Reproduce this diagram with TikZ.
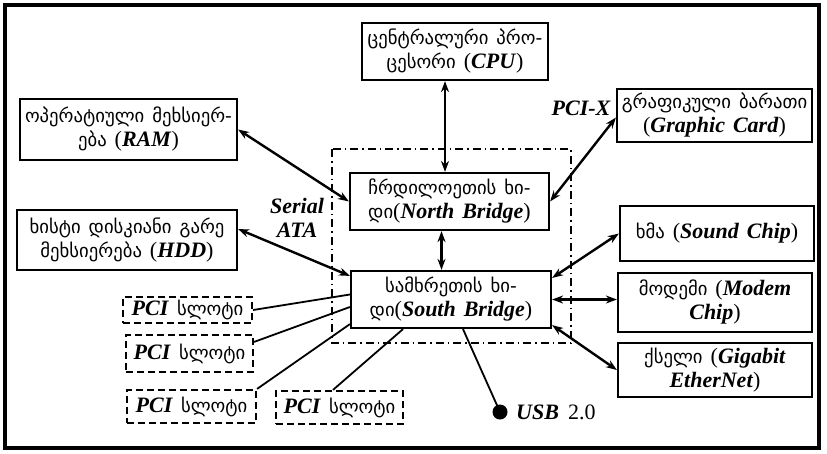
\documentclass[tikz,border=0pt]{standalone}
\usepackage{fontspec}
\setmainfont{Liberation Serif}
\newfontfamily\geo[Scale=0.85]{DejaVu Sans}
\usetikzlibrary{arrows.meta,calc}
\newcommand{\en}[1]{\textbf{\textit{#1}}}
\newcommand{\widespace}{\spaceskip=8pt plus 2pt\relax}
\begin{document}
\begin{tikzpicture}[x=1pt,y=-1pt,
  txt/.style={font=\fontsize{22}{24}\selectfont\widespace},
  box/.style={txt,draw,line width=2.2pt,inner sep=2pt,align=center},
  slot/.style={txt,draw,line width=2.2pt,dash pattern=on 7pt off 4pt,inner sep=2pt,align=center},
  link/.style={line width=2.4pt,{Stealth[length=11pt,width=8pt]}-{Stealth[length=11pt,width=8pt]}},
  wire/.style={line width=1.8pt},
  lbl/.style={font=\fontsize{22}{24}\selectfont\bfseries\itshape}]
\useasboundingbox (0,0) rectangle (827,453);
% outer frame
\draw[line width=3.5pt] (5,5) rectangle (819,448);
% chipset region
\draw[line width=1.6pt,dash pattern=on 8pt off 4pt on 1.5pt off 4pt] (332,149) rectangle (571,343);

% components
\node[box,minimum width=186pt,minimum height=57pt] (cpu) at (455,51.5)
  {{\geo ცენტრალური პრო-}\\{\geo ცესორი} (\en{CPU})};
\node[box,minimum width=217pt,minimum height=61pt] (ram) at (128.5,129.5)
  {{\geo ოპერატიული მეხსიერ-}\\{\geo ება} (\en{RAM})};
\node[box,minimum width=195pt,minimum height=53pt] (gc) at (714.5,115.5)
  {{\geo გრაფიკული ბარათი}\\(\en{Graphic Card})};
\node[box,minimum width=199pt,minimum height=57pt] (nb) at (449.5,201.5)
  {{\geo ჩრდილოეთის ხი-}\\{\geo დი}(\en{North Bridge})};
\node[box,minimum width=200pt,minimum height=57pt] (sb) at (451,299.5)
  {{\geo სამხრეთის ხი-}\\{\geo დი}(\en{South Bridge})};
\node[box,minimum width=220pt,minimum height=60pt] (hdd) at (127,240)
  {{\geo ხისტი დისკიანი გარე}\\{\geo მეხსიერება} (\en{HDD})};
\node[box,minimum width=194pt,minimum height=55pt] (snd) at (717,233.5)
  {{\geo ხმა} (\en{Sound Chip})};
\node[box,minimum width=194pt,minimum height=59pt] (mdm) at (715,302.5)
  {{\geo მოდემი} (\en{Modem}\\\en{Chip})};
\node[box,minimum width=194pt,minimum height=54pt] (gig) at (715,370)
  {{\geo ქსელი} (\en{Gigabit}\\\en{EtherNet})};

% expansion slots
\node[slot,minimum width=129pt,minimum height=26pt] (pci1) at (187.5,310) {\en{PCI} {\geo სლოტი}};
\node[slot,minimum width=127pt,minimum height=37pt] (pci2) at (189.5,353.5) {\en{PCI} {\geo სლოტი}};
\node[slot,minimum width=129pt,minimum height=33pt] (pci3) at (191.5,406.5) {\en{PCI} {\geo სლოტი}};
\node[slot,minimum width=127pt,minimum height=33pt] (pci4) at (339.5,407.5) {\en{PCI} {\geo სლოტი}};

% USB port
\node[circle,fill,inner sep=0pt,minimum size=15pt] (usb) at (500,412) {};
\node[txt,anchor=west,inner sep=0pt] (usbt) at (516,412) {\en{USB}\hspace{9pt}2.0};

% bus labels
\node[lbl,align=center,inner sep=0pt] (sata) at (297,218) {Serial\\ATA};
\node[lbl,inner sep=0pt] (pcix) at (581,108) {PCI-X};

% buses
\draw[link] ([xshift=-4.5pt]nb.north) -- ([xshift=-4.5pt]nb.north |- cpu.south);
\draw[link] (ram.east) -- (nb.west);
\draw[link] ([yshift=-2pt]gc.west) -- (nb.east);
\draw[link] ([xshift=-8pt]nb.south) -- ([xshift=-8pt]nb.south |- sb.north);
\draw[link] ([yshift=11pt]hdd.east) -- ([yshift=-6pt]sb.north west);
\draw[link] (snd.west) -- ([yshift=-8pt]sb.north east);
\draw[link] (sb.east) -- (sb.east -| mdm.west);
\draw[link] ([yshift=4pt]sb.south east) -- (gig.west);

% slot and port wiring
\draw[wire] (pci1.east) -- ([yshift=5pt]sb.west);
\draw[wire] ([yshift=-8pt]pci2.north east) -- ([yshift=-7.5pt]sb.west);
\draw[wire] (pci3.north east) -- ([yshift=5pt]sb.south west);
\draw[wire] ([xshift=-6.5pt]pci4.north) -- ([xshift=-48pt]sb.south);
\draw[wire] ([xshift=12pt]sb.south) -- (usb.center);
\end{tikzpicture}
\end{document}
